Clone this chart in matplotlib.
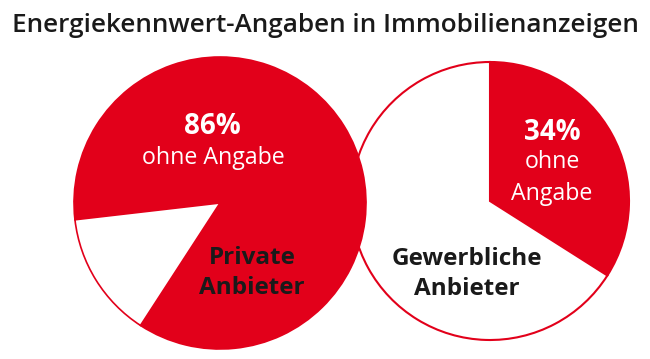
import matplotlib
matplotlib.use("Agg")
import matplotlib.pyplot as plt

title = "Energiekennwert-Angaben in Immobilienanzeigen"
groups = ["Private\nAnbieter", "Gewerbliche\nAnbieter"]
ohne_angabe = [86, 34]   # percent without energy data
pct_labels = ["86%", "34%"]
sub_labels = ["ohne Angabe", "ohne\nAngabe"]

RED = "#E2001A"
DARK = "#1a1a1a"
plt.rcParams['font.family'] = ['Open Sans', 'DejaVu Sans']

W, H = 650, 359
fig = plt.figure(figsize=(W / 100, H / 100), dpi=100)
ax = fig.add_axes([0, 0, 1, 1])

# right pie (drawn first, beneath)
ax.pie([ohne_angabe[1], 100 - ohne_angabe[1]], colors=[RED, "white"],
       startangle=90, counterclock=False, center=(490, H - 201), radius=139,
       wedgeprops=dict(edgecolor=RED, linewidth=1.5))
# left pie
ax.pie([ohne_angabe[0], 100 - ohne_angabe[0]], colors=[RED, "white"],
       startangle=237, counterclock=True, center=(220, H - 203), radius=146,
       wedgeprops=dict(edgecolor=RED, linewidth=1.2))

ax.set_xlim(0, W)
ax.set_ylim(0, H)
ax.set_aspect('auto')
ax.axis('off')

fig.text(12 / W, 1 - 25 / H, title, ha='left', va='center', fontsize=18.8,
         fontweight='semibold', color=DARK)

# left texts
ax.text(212, H - 126, pct_labels[0], ha='center', va='center', fontsize=20,
        fontweight='bold', color='white')
ax.text(213, H - 158, sub_labels[0], ha='center', va='center', fontsize=16.7,
        color='white')
ax.text(252, H - 273, groups[0], ha='center', va='center', fontsize=17.5,
        fontweight='bold', color=DARK, linespacing=1.37)
# right texts
ax.text(552, H - 132, pct_labels[1], ha='center', va='center', fontsize=20,
        fontweight='bold', color='white')
ax.text(552, H - 178, sub_labels[1], ha='center', va='center', fontsize=16.7,
        color='white', linespacing=1.45)
ax.text(467, H - 274, groups[1], ha='center', va='center', fontsize=17.5,
        fontweight='bold', color=DARK, linespacing=1.37)

fig.savefig("out.png", dpi=100, facecolor='white')
